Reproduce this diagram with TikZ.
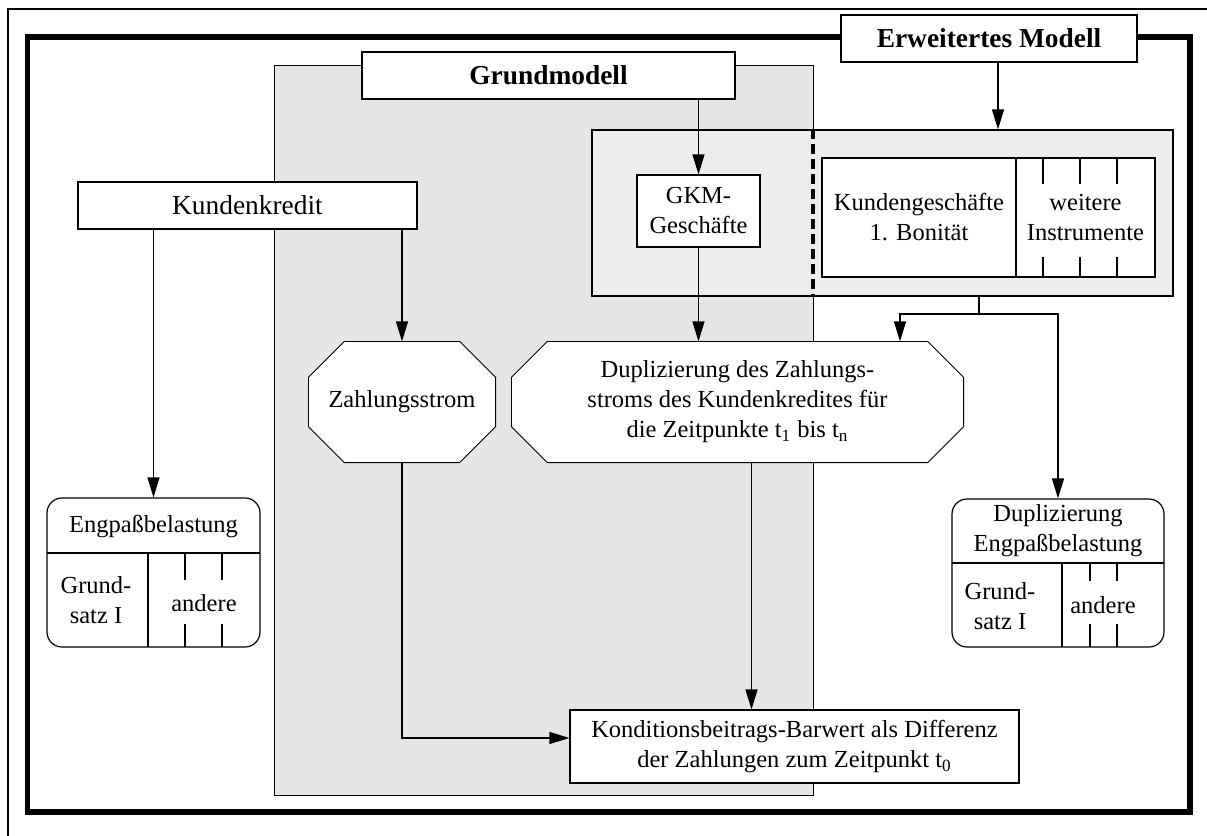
\documentclass[tikz,border=0pt]{standalone}
\usepackage{fontspec}
\setmainfont{Liberation Serif}
\usetikzlibrary{arrows.meta,backgrounds}
\newcommand\boxfont{\fontsize{12.25}{15}\selectfont}
\newcommand\bigfont{\fontsize{13.7}{15}\selectfont}

\begin{document}
\begin{tikzpicture}[x=0.5pt,y=-0.5pt,line width=0.6pt,
    box/.style={draw,fill=white,inner sep=0pt,align=center},
    octbox/.style={inner sep=0pt,align=center},
    roundbox/.style={draw,fill=white,rounded corners=7.5pt,inner sep=0pt},
    arr/.style={-{Triangle[length=10pt,width=6pt]}}]
  \useasboundingbox (0,0) rectangle (1207,836);
  \draw (8,836) |- (1207,9);
  \draw[line width=2.75pt] (27.5,37) rectangle (1190,812);
  \begin{scope}[on background layer]
    \filldraw[fill=black!10] (274,65) rectangle (813,795);
  \end{scope}
  \begin{scope}[every node/.style={font=\boxfont,align=center}]
    \node[box,minimum width=148pt,minimum height=23.5pt,font=\bigfont\bfseries] (erw) at (989,38.5) {Erweitertes Modell};
    \node[box,minimum width=186.5pt,minimum height=23.5pt,font=\bigfont\bfseries] (grund) at (548.5,75.5) {Grundmodell};
    \node[box,fill=black!7,minimum width=290.5pt,minimum height=83pt] (inst) at (882.5,213) {};
    \coordinate (dashx) at (813,0);
    \draw[line width=1.75pt,dash pattern=on 5pt off 2.5pt] (inst.north -| dashx) -- (inst.south -| dashx);
    \node[box,minimum width=61.5pt,minimum height=36pt] (gkm) at (698.5,211) {GKM-\\Geschäfte};
    \node[box,minimum width=97pt,minimum height=59.5pt] (kgs) at (919,217.5) {Kundengeschäfte\\1. Bonität};
    \node[box,minimum width=69.5pt,minimum height=59.5pt] (weit) at (1085.5,217.5) {weitere\\Instrumente};
    \foreach \x in {1043,1080,1117} {
      \draw (\x,158) -- (\x,184);
      \draw (\x,257) -- (\x,277);
    }
    \node[box,minimum width=169.5pt,minimum height=23.5pt,font=\bigfont] (kk) at (247.5,205.5) {Kundenkredit};
    \node[octbox,minimum width=93pt,minimum height=60pt] (zs) at (402,402) {Zahlungsstrom};
    \node[octbox,minimum width=225.5pt,minimum height=60pt] (dup) at (737.5,402) {Duplizierung des Zahlungs-\\stroms des Kundenkredites für\\die Zeitpunkte t\textsubscript{1} bis t\textsubscript{n}};
    % Engpass links
    \node[roundbox,minimum width=106.5pt,minimum height=74.5pt] (eng) at (153.5,572.5) {};
    \node (engt) at (153.5,527) {Engpaßbelastung};
    \draw (47,553) -- (260,553);
    \draw (148,553) -- (148,647);
    \foreach \x in {185,222} {
      \draw (\x,553) -- (\x,580);
      \draw (\x,624) -- (\x,647);
    }
    \node (gs1) at (96,600) {Grund-\\satz I};
    \node (and1) at (204,603) {andere};
    % Engpass rechts
    \node[roundbox,minimum width=106pt,minimum height=74pt] (deng) at (1058,573) {};
    \node (dengt) at (1058,531) {Duplizierung\\Engpaßbelastung};
    \draw (952,563) -- (1164,563);
    \draw (1062,563) -- (1062,647);
    \foreach \x in {1090,1117} {
      \draw (\x,563) -- (\x,581);
      \draw (\x,624) -- (\x,647);
    }
    \node (gs2) at (1000,606) {Grund-\\satz I};
    \node (and2) at (1103,605) {andere};
    \node[box,minimum width=224.5pt,minimum height=36.5pt] (kond) at (794.5,746.5) {Konditionsbeitrags-Barwert als Differenz\\der Zahlungen zum Zeitpunkt t\textsubscript{0}};
  \end{scope}
  \begin{scope}[on background layer]
    \foreach \n in {zs,dup}
      \filldraw[fill=white] ([xshift=18pt]\n.north west) -- ([xshift=-18pt]\n.north east)
        -- ([yshift=-18pt]\n.north east) -- ([yshift=18pt]\n.south east)
        -- ([xshift=-18pt]\n.south east) -- ([xshift=18pt]\n.south west)
        -- ([yshift=18pt]\n.south west) -- ([yshift=-18pt]\n.north west) -- cycle;
  \end{scope}
  \coordinate (erwout) at ([xshift=4.5pt]erw.south);
  \coordinate (dupout) at ([xshift=7pt]dup.south);
  \begin{scope}[every edge/.style={draw,arr}]
    \path (kk.south -| zs.north) edge (zs.north);
    \path (kk.south -| eng.north) edge (eng.north);
    \path (grund.south -| gkm.north) edge (gkm.north);
    \path (gkm.south) edge (gkm.south |- dup.north);
    \path (erwout) edge (erwout |- inst.north);
    \path (dupout) edge (dupout |- kond.north);
  \end{scope}
  \coordinate (split) at (979,314);
  \draw (inst.south -| split) -- (split);
  \draw[arr] (split) -| ([xshift=81.25pt]dup.north);
  \draw[arr] (split) -| (deng.north);
  \draw[arr] (zs.south) |- ([yshift=4.25pt]kond.west);
\end{tikzpicture}
\end{document}
